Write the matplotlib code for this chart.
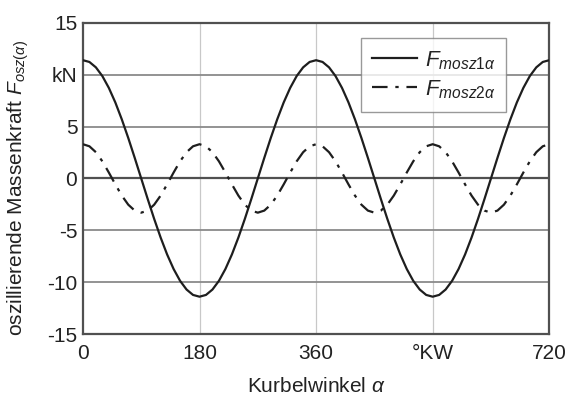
import matplotlib
matplotlib.use("Agg")
import matplotlib.pyplot as plt

plt.rcParams['font.family'] = ['Liberation Sans', 'DejaVu Sans']
plt.rcParams['mathtext.fontset'] = 'custom'
plt.rcParams['mathtext.it'] = 'Liberation Sans:italic'
plt.rcParams['mathtext.rm'] = 'Liberation Sans'

# crank angle in degrees, 10 deg steps over two revolutions
angle = list(range(0, 721, 10))

# first order oscillating mass force, kN, one revolution
f_mosz1_rev = [11.4, 11.23, 10.71, 9.87, 8.73, 7.33, 5.7, 3.9, 1.98, 0.0,
               -1.98, -3.9, -5.7, -7.33, -8.73, -9.87, -10.71, -11.23, -11.4,
               -11.23, -10.71, -9.87, -8.73, -7.33, -5.7, -3.9, -1.98, 0.0,
               1.98, 3.9, 5.7, 7.33, 8.73, 9.87, 10.71, 11.23, 11.4]

# second order oscillating mass force, kN, one revolution
f_mosz2_rev = [3.3, 3.1, 2.53, 1.65, 0.57, -0.57, -1.65, -2.53, -3.1, -3.3,
               -3.1, -2.53, -1.65, -0.57, 0.57, 1.65, 2.53, 3.1, 3.3,
               3.1, 2.53, 1.65, 0.57, -0.57, -1.65, -2.53, -3.1, -3.3,
               -3.1, -2.53, -1.65, -0.57, 0.57, 1.65, 2.53, 3.1, 3.3]

# the engine repeats every revolution
f_mosz1 = f_mosz1_rev + f_mosz1_rev[1:]
f_mosz2 = f_mosz2_rev + f_mosz2_rev[1:]

x_ticks = [0, 180, 360, 540, 720]
x_labels = ['0', '180', '360', '°KW', '720']
y_ticks = [-15, -10, -5, 0, 5, 10, 15]
y_labels = ['-15', '-10', '-5', '0', '5', 'kN', '15']

fig = plt.figure(figsize=(5.68, 4.01), dpi=100)
ax = fig.add_axes([0.146, 0.167, 0.821, 0.776])

# grid
for x in x_ticks[1:-1]:
    ax.axvline(x, color='#c8c8c8', lw=0.9, zorder=1)
for y in y_ticks[1:-1]:
    if y == 0:
        ax.axhline(y, color='#505050', lw=1.6, zorder=1)
    else:
        ax.axhline(y, color='#8a8a8a', lw=1.3, zorder=1)

ax.plot(angle, f_mosz1, color='#1e1e1e', lw=1.6, label=r'$F_{mosz1\alpha}$',
        solid_joinstyle='round', zorder=3)
ax.plot(angle, f_mosz2, color='#1e1e1e', lw=1.6, dashes=(7, 3.5, 1.5, 3.5),
        label=r'$F_{mosz2\alpha}$', zorder=3)

ax.set_xlim(0, 720)
ax.set_ylim(-15, 15)
ax.set_xticks(x_ticks)
ax.set_xticklabels(x_labels)
ax.set_yticks(y_ticks)
ax.set_yticklabels(y_labels)
ax.tick_params(length=0, labelsize=15, colors='#222222')
ax.tick_params(axis='x', pad=7.5)
ax.tick_params(axis='y', pad=4)
for s in ax.spines.values():
    s.set_color('#505050')
    s.set_linewidth(1.6)

ax.set_xlabel(r'Kurbelwinkel $\alpha$', fontsize=15, color='#222222', labelpad=10)
ax.set_ylabel(r'oszillierende Massenkraft $F_{osz(\alpha)}$', fontsize=15,
              color='#222222')
ax.yaxis.set_label_coords(-0.112, 0.47)

leg = ax.legend(loc='upper left', bbox_to_anchor=(0.597, 0.952), fontsize=16,
                frameon=True, fancybox=False, handlelength=2.0, borderpad=0.5,
                labelspacing=0.3, handletextpad=0.35, borderaxespad=0)
leg.get_frame().set_edgecolor('#808080')
leg.get_frame().set_linewidth(1.0)
for t in leg.get_texts():
    t.set_color('#222222')

fig.savefig('out.png', dpi=100)
